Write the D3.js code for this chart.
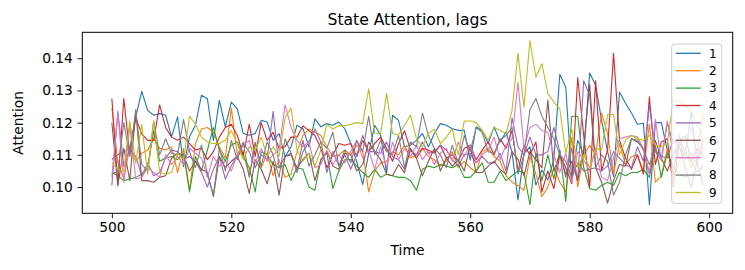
<!DOCTYPE html>
<html>
<head>
<meta charset="utf-8">
<script src="https://cdn.jsdelivr.net/npm/d3@7"></script>
<style>
	body { margin: 0; background: #fff; }
	text { font-family: "DejaVu Sans", sans-serif; fill: #000; }
</style>
</head>
<body>
<div class="chart"></div>
<script>
	// Data: one value per time step, time starts at 500
	var startTime = 500;
	var seriesNames = ["1", "2", "3", "4", "5", "6", "7", "8", "9"];
	var xTicks = [500, 520, 540, 560, 580, 600];
	var yTicks = [0.10, 0.11, 0.12, 0.13, 0.14];

	var s1 = [.1086, .1100, .1110, .1120, .1217, .1297, .1238, .1223, .1228, .1223,
		.1156, .1218, .1063, .1156, .1192, .1285, .1274, .1145, .1269, .1187,
		.1264, .1243, .1166, .1161, .1166, .1207, .1202, .1145, .1166, .1094,
		.1125, .1192, .1181, .1125, .1212, .1187, .1197, .1192, .1202, .1181,
		.1135, .1078, .1008, .1104, .1192, .1161, .1042, .1223, .1207, .1125,
		.1130, .1145, .1166, .1125, .1166, .1197, .1192, .1181, .1176, .1176,
		.1084, .1187, .1176, .1135, .1187, .1140, .1171, .1109, .0960, .1104,
		.1125, .1006, .1053, .1022, .1084, .1350, .1310, .1022, .1145, .1100,
		.1354, .1316, .1207, .1110, .1032, .1295, .1260, .1230, .1195, .1198,
		.0944, .1200, .1200, .1115, .1040, .1160, .1105, .1235, .1075, .1150];
	var s2 = [.1245, .1075, .1025, .1125, .1080, .1105, .1115, .1150, .1120, .1115,
		.1125, .1045, .1120, .0990, .1135, .1180, .1185, .1170, .1125, .1090,
		.1245, .1100, .1105, .1035, .1135, .1060, .1105, .1035, .1085, .1030,
		.1040, .1110, .1160, .1180, .1170, .1160, .1125, .1095, .1100, .1115,
		.1100, .1130, .1110, .0985, .1050, .1075, .1080, .1110, .1100, .1130,
		.1090, .1100, .1120, .1095, .1085, .1065, .1080, .1110, .1060, .1080,
		.1060, .1045, .1110, .1120, .1095, .1080, .1035, .1015, .1005, .0990,
		.1095, .1040, .0970, .1000, .1060, .1015, .0985, .1155, .1000, .1100,
		.1130, .1100, .1230, .1165, .1040, .1135, .1070, .1095, .1100, .1050,
		.1195, .1015, .1035, .1120, .1030, .1080, .1115, .1060, .1105, .1230];
	var s3 = [.1045, .1035, .1020, .1025, .1030, .1040, .1060, .1175, .1080, .1090,
		.1095, .1085, .1105, .0985, .1095, .1050, .1115, .1185, .1115, .1080,
		.1130, .1140, .1095, .1060, .0985, .1110, .1100, .1070, .1060, .1070,
		.1020, .1060, .1055, .1000, .0990, .1085, .1105, .0995, .1050, .1085,
		.1085, .1065, .1045, .1030, .1055, .1030, .1040, .1035, .1030, .1030,
		.1020, .0990, .1055, .1065, .1060, .1070, .1065, .1060, .1070, .1030,
		.1030, .1050, .1075, .1015, .1015, .1050, .1020, .1035, .1050, .1045,
		.0945, .1105, .1020, .1100, .1025, .1115, .0955, .1220, .1220, .1060,
		.0995, .0990, .1005, .1015, .1005, .1045, .1035, .1045, .1045, .1055,
		.1030, .1130, .1030, .1105, .1060, .1040, .1030, .1040, .1050, .1060];
	var s4 = [.1275, .1005, .1275, .1100, .1215, .1165, .1145, .1145, .1255, .1185,
		.1155, .1145, .1155, .1135, .1115, .1120, .1085, .1110, .1155, .1185,
		.1195, .1160, .1100, .1195, .1095, .1200, .1145, .1170, .1120, .1125,
		.1155, .1155, .1190, .1175, .1160, .1120, .1060, .1100, .1135, .1130,
		.1135, .1095, .1145, .1110, .1135, .1155, .1120, .1080, .1135, .1175,
		.1115, .1090, .1120, .1115, .1105, .1130, .1090, .1100, .1080, .1120,
		.1130, .1085, .1115, .1140, .1100, .1150, .1120, .1175, .1050, .1130,
		.1100, .1140, .0985, .1050, .0995, .1100, .1060, .1010, .1340, .1160,
		.1000, .1330, .1050, .1115, .1415, .1145, .1090, .1055, .1100, .1040,
		.1280, .1070, .1140, .1150, .1000, .1140, .1160, .1080, .1120, .1100];
	var s5 = [.1005, .1235, .1065, .1120, .1095, .1035, .1075, .1035, .1045, .1090,
		.1115, .1110, .1085, .1095, .1080, .1045, .1000, .1055, .1095, .1025,
		.1065, .1100, .1135, .1110, .1060, .1100, .1085, .1235, .1060, .1095,
		.1105, .1045, .1110, .1140, .1180, .1140, .1045, .1110, .1065, .1100,
		.1055, .1100, .1160, .1110, .1110, .1105, .1140, .1095, .1085, .1055,
		.1115, .1100, .1140, .1105, .1110, .1130, .1115, .1085, .1065, .1100,
		.1105, .1075, .1095, .1075, .1075, .1105, .1050, .1215, .1125, .1100,
		.1155, .1100, .1100, .1110, .1185, .1110, .1030, .1120, .1020, .1330,
		.1285, .1060, .1050, .1065, .1110, .1090, .1070, .1060, .1125, .1080,
		.1255, .1110, .1085, .1200, .1135, .1145, .1085, .1105, .1075, .1125];
	var s6 = [.1200, .1005, .1120, .1020, .1240, .1020, .1020, .1015, .1030, .1035,
		.1090, .1105, .1100, .1050, .1080, .1055, .1045, .0970, .1095, .1060,
		.1080, .1095, .1055, .0980, .1085, .1055, .1010, .1080, .0975, .1095,
		.1100, .1060, .1085, .1105, .1020, .1085, .1110, .1065, .1055, .1105,
		.1100, .1050, .1070, .1140, .1110, .1085, .1040, .1035, .1070, .1045,
		.1120, .1090, .1035, .1080, .1120, .1050, .1090, .1065, .1085, .1050,
		.1130, .1045, .1045, .1065, .1080, .1055, .1040, .1110, .1085, .1035,
		.1110, .1085, .1060, .1270, .1050, .1100, .1040, .1080, .1020, .1120,
		.1320, .1060, .1015, .0950, .1020, .1070, .1065, .1150, .1140, .1120,
		.1040, .1145, .1090, .1050, .1100, .1130, .1060, .1000, .1080, .1005];
	var s7 = [.1030, .1230, .1015, .1190, .1025, .1030, .1060, .1045, .1030, .1100,
		.1070, .1095, .1070, .1120, .1105, .1090, .1030, .1095, .1065, .1080,
		.1050, .1100, .1130, .1145, .1075, .1120, .1080, .1100, .1115, .1255,
		.1185, .1145, .1125, .1140, .1060, .1070, .1115, .1070, .1100, .1075,
		.1110, .1145, .1090, .1115, .1055, .1125, .1060, .1140, .1085, .1120,
		.1095, .1130, .1085, .1110, .1070, .1105, .1120, .1080, .1140, .1095,
		.1130, .1075, .1100, .1115, .1155, .1085, .1130, .1150, .1325, .1120,
		.1185, .1195, .1175, .1170, .1100, .1045, .1105, .1015, .1110, .1085,
		.1050, .1120, .1030, .1020, .1090, .1150, .1155, .1160, .1155, .1120,
		.1040, .1210, .1080, .1205, .1100, .1150, .1110, .1185, .1090, .1140];
	var s8 = [.1040, .1050, .1200, .1095, .1240, .1070, .1050, .1205, .1100, .1150,
		.1105, .1100, .1210, .1110, .1060, .1130, .1040, .0975, .1120, .1050,
		.1145, .1085, .1140, .1030, .1140, .1065, .1140, .1100, .1030, .1150,
		.1105, .1050, .1145, .1065, .1100, .1140, .1120, .1170, .1065, .1115,
		.1075, .1145, .1110, .1220, .1100, .1145, .1110, .1100, .1160, .1060,
		.1140, .1125, .1230, .1160, .1120, .1100, .1060, .1130, .1075, .1160,
		.1110, .1185, .1170, .1110, .1105, .1145, .1160, .1185, .1040, .1100,
		.1240, .1275, .1220, .1185, .1150, .1100, .1080, .1030, .1075, .1050,
		.1055, .1060, .1100, .1080, .0975, .1015, .1100, .1150, .1145, .1115,
		.1070, .1115, .1095, .1090, .1150, .1120, .1100, .1080, .1045, .1070];
	var s9 = [.1076, .1055, .1050, .1205, .1074, .1195, .1040, .1205, .1045, .1040,
		.1045, .1105, .1085, .1220, .1195, .1155, .1140, .1135, .1135, .1145,
		.1175, .1135, .1085, .1125, .1115, .1155, .1095, .1125, .1095, .1215,
		.1245, .1115, .1080, .1105, .1065, .1115, .1195, .1180, .1190, .1190,
		.1195, .1200, .1197, .1305, .1167, .1165, .1290, .1166, .1161, .1192,
		.1223, .1150, .1125, .1166, .1180, .1135, .1155, .1180, .1100, .1205,
		.1205, .1200, .1176, .1145, .1185, .1176, .1166, .1238, .1415, .1248,
		.1455, .1341, .1383, .1290, .1264, .1243, .1105, .1180, .1060, .1100,
		.1060, .1120, .1115, .1225, .1225, .1100, .1145, .1160, .1150, .1145,
		.1160, .1130, .1125, .1135, .1270, .1265, .1250, .1240, .1190, .1165];

	var allSeries = [s1, s2, s3, s4, s5, s6, s7, s8, s9];
	var colors = ["#1f77b4", "#ff7f0e", "#2ca02c", "#d62728", "#9467bd",
		"#8c564b", "#e377c2", "#7f7f7f", "#bcbd22"];

	var svg_w = 745;
	var svg_h = 270;
	var plot = {left: 82.3, right: 732.7, top: 32.3, bottom: 213.3};

	var svg = d3.select("div.chart").append("svg")
		.attr("width", svg_w)
		.attr("height", svg_h);

	svg.append("rect")
		.attr("width", svg_w)
		.attr("height", svg_h)
		.attr("fill", "#fff");

	// Scales with matplotlib style 5% padding
	var n = s1.length;
	var xMin = startTime, xMax = startTime + n - 1;
	var xPad = (xMax - xMin) * 0.05;
	var yMin = d3.min(allSeries, function(s) { return d3.min(s); });
	var yMax = d3.max(allSeries, function(s) { return d3.max(s); });
	var yPad = (yMax - yMin) * 0.05;

	var x = d3.scaleLinear()
		.domain([xMin - xPad, xMax + xPad])
		.range([plot.left, plot.right]);
	var y = d3.scaleLinear()
		.domain([yMin - yPad, yMax + yPad])
		.range([plot.bottom, plot.top]);

	svg.append("clipPath").attr("id", "clip")
		.append("rect")
		.attr("x", plot.left)
		.attr("y", plot.top)
		.attr("width", plot.right - plot.left)
		.attr("height", plot.bottom - plot.top);

	// Lines
	var line = d3.line()
		.x(function(d, i) { return x(startTime + i); })
		.y(function(d) { return y(d); });

	svg.append("g")
		.attr("clip-path", "url(#clip)")
		.selectAll("path")
		.data(allSeries)
		.enter()
		.append("path")
		.attr("d", line)
		.attr("fill", "none")
		.attr("stroke", function(d, i) { return colors[i]; })
		.attr("stroke-width", 1.1)
		.attr("stroke-linejoin", "round");

	// Axes
	var xAxis = d3.axisBottom(x).tickValues(xTicks).tickSize(4.9).tickPadding(4.5);
	var yAxis = d3.axisLeft(y).tickValues(yTicks).tickSize(4.9).tickPadding(4.5)
		.tickFormat(d3.format(".2f"));

	var gx = svg.append("g")
		.attr("transform", "translate(0," + plot.bottom + ")")
		.call(xAxis);
	var gy = svg.append("g")
		.attr("transform", "translate(" + plot.left + ",0)")
		.call(yAxis);

	[gx, gy].forEach(function(g) {
		g.select(".domain").remove();
		g.selectAll("line").attr("stroke", "#000").attr("stroke-width", 0.9);
		g.selectAll("text")
			.attr("font-family", "DejaVu Sans")
			.attr("font-size", "13.8px")
			.attr("fill", "#000");
	});

	// frame
	svg.append("rect")
		.attr("x", plot.left)
		.attr("y", plot.top)
		.attr("width", plot.right - plot.left)
		.attr("height", plot.bottom - plot.top)
		.attr("fill", "none")
		.attr("stroke", "#000")
		.attr("stroke-width", 1);

	// Titles
	svg.append("text")
		.attr("x", (plot.left + plot.right) / 2)
		.attr("y", 24.5)
		.attr("text-anchor", "middle")
		.attr("font-size", "15.6px")
		.text("State Attention, lags");

	svg.append("text")
		.attr("x", (plot.left + plot.right) / 2)
		.attr("y", 255)
		.attr("text-anchor", "middle")
		.attr("font-size", "13.8px")
		.text("Time");

	svg.append("text")
		.attr("transform", "translate(23," + ((plot.top + plot.bottom) / 2) + ") rotate(-90)")
		.attr("text-anchor", "middle")
		.attr("font-size", "13.8px")
		.text("Attention");

	// Legend
	var legend = svg.append("g");
	legend.append("rect")
		.attr("x", 671.7)
		.attr("y", 44)
		.attr("width", 50)
		.attr("height", 159.3)
		.attr("rx", 3)
		.attr("fill", "#fff")
		.attr("fill-opacity", 0.8)
		.attr("stroke", "#cccccc")
		.attr("stroke-width", 1);

	var item = legend.selectAll("g.item")
		.data(seriesNames)
		.enter()
		.append("g")
		.attr("class", "item")
		.attr("transform", function(d, i) {
			return "translate(0," + (53.3 + i * 17.4) + ")";
		});

	item.append("line")
		.attr("x1", 675.7)
		.attr("x2", 700.7)
		.attr("stroke", function(d, i) { return colors[i]; })
		.attr("stroke-width", 1.3);

	item.append("text")
		.attr("x", 709)
		.attr("y", 4.3)
		.attr("font-size", "12px")
		.text(function(d) { return d; });
</script>
</body>
</html>
